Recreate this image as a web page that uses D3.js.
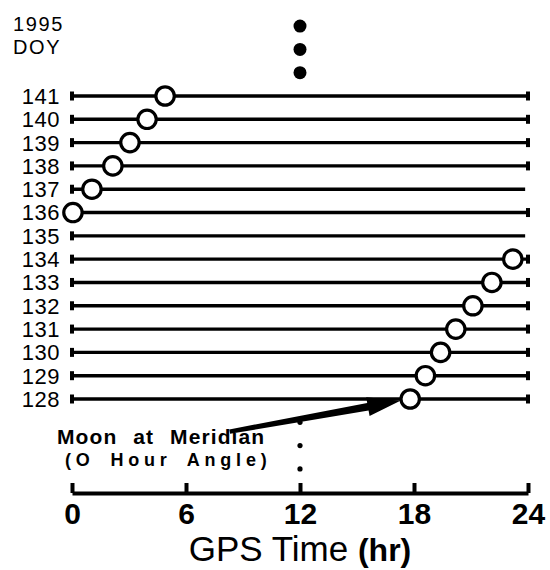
<!DOCTYPE html>
<html>
<head>
<meta charset="utf-8">
<script src="https://cdn.jsdelivr.net/npm/d3@7/dist/d3.min.js"></script>
<style>
  html, body { margin: 0; padding: 0; background: #fff; }
  svg { display: block; font-family: "Liberation Sans", Arial, sans-serif; }
</style>
</head>
<body>
<svg id="chart" width="550" height="570"></svg>
<script>
// Day of year (1995), top row first
const doy = [141, 140, 139, 138, 137, 136, 135, 134, 133, 132, 131, 130, 129, 128];
// GPS hour at which the Moon crosses the meridian on each day (null: no crossing that day)
const meridianHour = [4.9, 3.95, 3.05, 2.15, 1.05, 0.05, null, 23.2, 22.1, 21.1, 20.2, 19.4, 18.6, 17.8];
// Days whose tracks are drawn without a closing end bar
const openEndDays = [137, 135];
// Continuation marks above and below the plotted days, at 12 h
const continuationAbove = [142, 143, 144];
const continuationBelow = [127, 126, 125];
const continuationHour = 12;
// Time axis
const hourTicks = [0, 6, 12, 18, 24];
const hourTickLabels = ["0", "6", "12", "18", "24"];

const svg = d3.select("#chart");

const x = d3.scaleLinear().domain([0, 24]).range([72, 528]);
const y = d3.scaleLinear().domain([128, 141]).range([399, 96]);

// Header
svg.append("text").attr("x", 13).attr("y", 31)
  .attr("font-size", 20).attr("letter-spacing", 1.6).text("1995");
svg.append("text").attr("x", 13).attr("y", 54)
  .attr("font-size", 20).attr("letter-spacing", 1.6).text("DOY");

// Day labels
svg.append("g").selectAll("text").data(doy).join("text")
  .attr("x", 60).attr("y", d => y(d))
  .attr("dy", "0.36em")
  .attr("text-anchor", "end")
  .attr("font-size", 22).attr("letter-spacing", 0.5)
  .text(d => d);

// Daily tracks
const tracks = svg.append("g").attr("stroke", "#000");
tracks.selectAll("line.track").data(doy).join("line")
  .attr("class", "track")
  .attr("x1", x(0)).attr("x2", d => openEndDays.includes(d) ? x(23.85) : x(24))
  .attr("y1", d => y(d)).attr("y2", d => y(d))
  .attr("stroke-width", 3.4);
// End bars
tracks.selectAll("line.capL").data(doy).join("line")
  .attr("class", "capL")
  .attr("x1", x(0)).attr("x2", x(0))
  .attr("y1", d => y(d) - 4.5).attr("y2", d => y(d) + 4.5)
  .attr("stroke-width", 4);
tracks.selectAll("line.capR").data(doy.filter(d => !openEndDays.includes(d))).join("line")
  .attr("class", "capR")
  .attr("x1", x(24)).attr("x2", x(24))
  .attr("y1", d => y(d) - 4.5).attr("y2", d => y(d) + 4.5)
  .attr("stroke-width", 4);

// Meridian crossings
const crossings = doy.map((d, i) => ({ day: d, hour: meridianHour[i] }))
  .filter(p => p.hour !== null);
svg.append("g").selectAll("circle").data(crossings).join("circle")
  .attr("cx", p => x(p.hour)).attr("cy", p => y(p.day))
  .attr("r", 9.2)
  .attr("fill", "#fff").attr("stroke", "#000").attr("stroke-width", 3.2);

// Continuation dots
svg.append("g").selectAll("circle").data(continuationAbove).join("circle")
  .attr("cx", x(continuationHour)).attr("cy", d => y(d))
  .attr("r", 6.5).attr("fill", "#000");
svg.append("g").selectAll("circle").data(continuationBelow).join("circle")
  .attr("cx", x(continuationHour)).attr("cy", d => y(d))
  .attr("r", 2.6).attr("fill", "#000");

// Annotation
svg.append("text").attr("x", 57).attr("y", 444)
  .attr("font-size", 21).attr("font-weight", "bold")
  .attr("letter-spacing", 1.1).attr("word-spacing", 9)
  .text("Moon at Meridian");
svg.append("text").attr("x", 65).attr("y", 466)
  .attr("font-size", 18).attr("font-weight", "bold")
  .attr("letter-spacing", 4.8).attr("word-spacing", 6)
  .text("(O Hour Angle)");

// Arrow from the annotation to the first crossing
(function () {
  const target = crossings.find(p => p.day === 128);
  const tx = x(target.hour), ty = y(target.day);
  const sx = x(8.3), sy = y(126.6);
  const dx = tx - sx, dy = ty - sy, len = Math.hypot(dx, dy);
  const ux = dx / len, uy = dy / len, nx = -uy, ny = ux;
  const tip = [tx - ux * 10, ty - uy * 10];
  const headLen = 33, headHalf = 9.5;
  const base = [tip[0] - ux * headLen, tip[1] - uy * headLen];
  const w0 = 2.2, w1 = 3.8;
  const pts = [
    [sx + nx * w0, sy + ny * w0],
    [base[0] + nx * w1, base[1] + ny * w1],
    [base[0] + nx * headHalf, base[1] + ny * headHalf],
    tip,
    [base[0] - nx * headHalf, base[1] - ny * headHalf],
    [base[0] - nx * w1, base[1] - ny * w1],
    [sx - nx * w0, sy - ny * w0]
  ];
  svg.append("path").attr("d", d3.line()(pts) + "Z").attr("fill", "#000");
})();

// Time axis
const axis = svg.append("g").attr("transform", "translate(0,493)")
  .call(d3.axisBottom(x).tickValues(hourTicks)
    .tickFormat((d, i) => hourTickLabels[i])
    .tickSize(-10).tickSizeOuter(0).tickPadding(10));
axis.select(".domain").attr("stroke", "#000").attr("stroke-width", 4);
axis.selectAll(".tick line").attr("stroke", "#000").attr("stroke-width", 4);
axis.selectAll(".tick text")
  .attr("font-family", "Liberation Sans, Arial, sans-serif")
  .attr("font-size", 30).attr("font-weight", "bold").attr("fill", "#000");

const title = svg.append("text").attr("x", x(12)).attr("y", 561)
  .attr("text-anchor", "middle").attr("font-size", 35);
title.append("tspan").text("GPS Time ");
title.append("tspan").attr("font-weight", "bold").attr("font-size", 32).text("(hr)");
</script>
</body>
</html>
